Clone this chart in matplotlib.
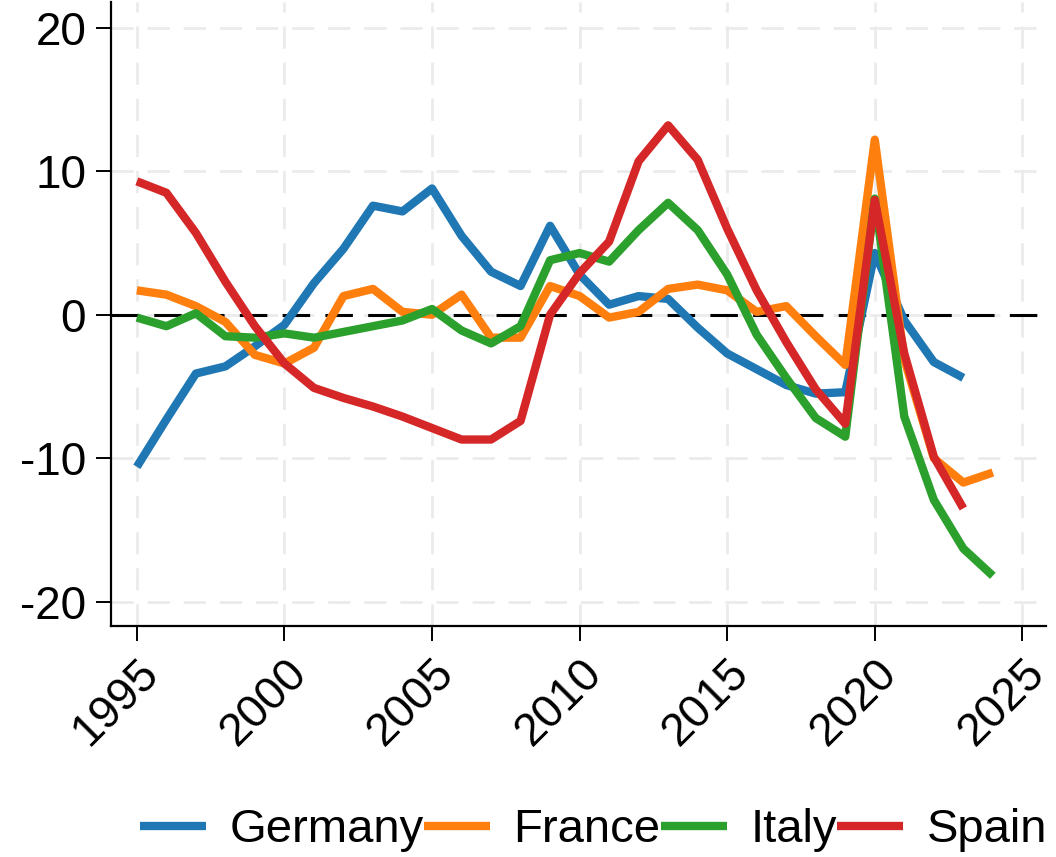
import matplotlib
matplotlib.use("Agg")
import matplotlib.pyplot as plt

plt.rcParams["font.family"] = ["Liberation Sans", "DejaVu Sans"]

years = list(range(1995, 2025))

germany = [-10.6, -7.3, -4.1, -3.6, -2.2, -0.7, 2.2, 4.6, 7.6, 7.2, 8.8,
           5.5, 3.0, 2.0, 6.2, 2.8, 0.7, 1.3, 1.1, -0.9, -2.7, -3.8, -4.9,
           -5.5, -5.4, 4.3, -0.4, -3.3, -4.4]
france = [1.7, 1.4, 0.6, -0.5, -2.8, -3.4, -2.3, 1.3, 1.8, 0.2, 0.0,
          1.4, -1.6, -1.6, 2.0, 1.3, -0.2, 0.2, 1.8, 2.1, 1.7, 0.2, 0.6,
          -1.5, -3.5, 12.2, -3.1, -10.0, -11.7, -11.0]
italy = [-0.2, -0.8, 0.1, -1.5, -1.6, -1.3, -1.6, -1.2, -0.8, -0.4, 0.4,
         -1.1, -2.0, -0.8, 3.8, 4.3, 3.7, 5.9, 7.8, 5.9, 2.8, -1.4, -4.4,
         -7.2, -8.5, 8.1, -7.1, -12.9, -16.3, -18.2]
spain = [9.3, 8.5, 5.7, 2.3, -0.8, -3.4, -5.1, -5.8, -6.4, -7.1, -7.9,
         -8.7, -8.7, -7.4, 0.0, 2.9, 5.1, 10.7, 13.2, 10.8, 6.0, 1.7, -1.9,
         -5.2, -7.6, 8.0, -2.7, -9.9, -13.5]

series = [("Germany", germany, "#1f77b4"),
          ("France", france, "#ff7f0e"),
          ("Italy", italy, "#2ca02c"),
          ("Spain", spain, "#d62728")]

fig = plt.figure(figsize=(10.56, 8.57), dpi=100)
ax = fig.add_axes([0.105, 0.2695, 0.8855, 0.7282])

for name, vals, col in series:
    ax.plot(years[:len(vals)], vals, color=col, lw=6, label=name,
            solid_capstyle="butt", zorder=3)

ax.axhline(0, color="black", lw=2.2, ls=(0, (9, 5)), zorder=2)

ax.set_xlim(1994.12, 2025.8)
ax.set_ylim(-21.7, 21.8)
ax.set_xticks(range(1995, 2026, 5))
ax.set_yticks([-20, -10, 0, 10, 20])
ax.set_yticklabels(["-20", "-10", "0", "10", "20"])
ax.grid(True, color="#ebebeb", lw=2, ls=(0, (8, 5)), zorder=0)

for s in ["top", "right"]:
    ax.spines[s].set_visible(False)
for s in ["left", "bottom"]:
    ax.spines[s].set_linewidth(1.6)

ax.tick_params(axis="both", labelsize=33, length=10.8, width=1.4,
               direction="out", pad=7)
plt.setp(ax.get_xticklabels(), rotation=45, ha="right", rotation_mode="anchor")

fig.legend(loc="center", bbox_to_anchor=(0.562, 0.031), ncol=4, frameon=False,
           fontsize=34, handlelength=1.4, handletextpad=0.5, columnspacing=0.0)

fig.savefig("out.png", dpi=100)
